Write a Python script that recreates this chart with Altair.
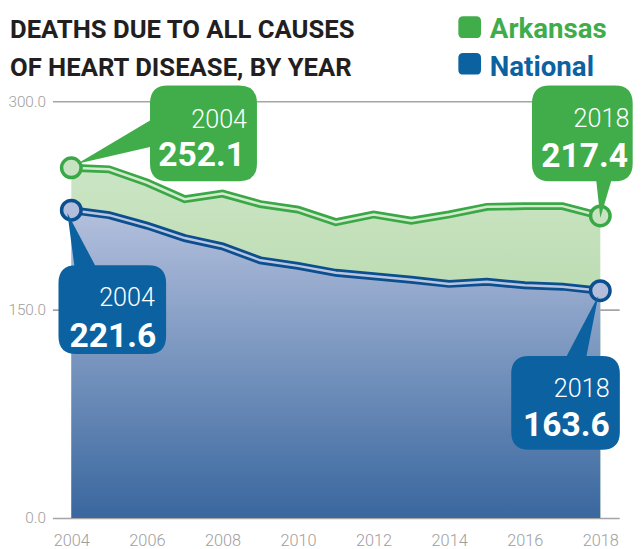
import altair as alt
import pandas as pd

# ---------------- data ----------------
years = list(range(2004, 2019))
arkansas = [252.1, 251.0, 241.5, 229.5, 233.5, 226.0, 222.0, 213.0, 218.5, 214.0, 218.5, 224.0, 224.5, 224.5, 217.4]
national = [221.6, 218.0, 210.5, 201.5, 195.5, 185.5, 181.5, 176.5, 174.0, 171.5, 168.5, 170.0, 167.5, 166.5, 163.6]
series_names = ["Arkansas", "National"]
title_lines = ["DEATHS DUE TO ALL CAUSES", "OF HEART DISEASE, BY YEAR"]
x_ticks = list(range(2004, 2019, 2))
y_ticks = [0, 150, 300]

# ---------------- style ----------------
FONT = "Roboto, Liberation Sans, sans-serif"
GREEN = "#40ad4a"
GREEN_LINE = "#3aa847"
GREEN_LIGHT = "#d4eacd"
GREEN_FILL = "#c8e3c1"
BLUE = "#0c62a1"
BLUE_LINE = "#0b4f8f"
BLUE_LIGHT = "#b8c4e0"
BLUE_FILL = "#b2bedb"
GRAY = "#9e9e9e"

ark_df = pd.DataFrame({"year": years, "value": arkansas})
nat_df = pd.DataFrame({"year": years, "value": national})

xscale = alt.Scale(domain=[2003.5, 2018.5], nice=False, zero=False)
yscale = alt.Scale(domain=[0, 300], nice=False)
xaxis = alt.Axis(values=x_ticks, format="d", grid=False, domain=False, ticks=False,
                 labelFont=FONT, labelFontSize=16.5, labelFontWeight=300, labelColor=GRAY,
                 labelPadding=15, title=None)
yaxis = alt.Axis(values=y_ticks, format=".1f", grid=True, gridColor="#a5a5a5", gridWidth=1.6,
                 domain=False, ticks=False, labelFont=FONT, labelFontSize=15.5,
                 labelFontWeight=300, labelColor=GRAY, labelPadding=7, title=None)
X = alt.X("year:Q", scale=xscale, axis=xaxis)
Y = alt.Y("value:Q", scale=yscale, axis=yaxis)


def grad(c0, c1):
    return alt.Gradient(gradient="linear", x1=0, x2=0, y1=0, y2=1,
                        stops=[alt.GradientStop(offset=0, color=c0),
                               alt.GradientStop(offset=1, color=c1)])


green_area = alt.Chart(ark_df).mark_area(color=grad("#cbe5c4", "#a2cd94")).encode(x=X, y=Y)
blue_area = alt.Chart(nat_df).mark_area(color=grad("#b4c0dd", "#39679e")).encode(x=X, y=Y)

green_line_o = alt.Chart(ark_df).mark_line(color=GREEN_LINE, strokeWidth=8).encode(x=X, y=Y)
green_line_i = alt.Chart(ark_df).mark_line(color=GREEN_LIGHT, strokeWidth=2.5).encode(x=X, y=Y)
blue_line_o = alt.Chart(nat_df).mark_line(color=BLUE_LINE, strokeWidth=8).encode(x=X, y=Y)
blue_line_i = alt.Chart(nat_df).mark_line(color=BLUE_LIGHT, strokeWidth=2.5).encode(x=X, y=Y)

ends_ark = pd.DataFrame({"year": [years[0], years[-1]], "value": [arkansas[0], arkansas[-1]]})
ends_nat = pd.DataFrame({"year": [years[0], years[-1]], "value": [national[0], national[-1]]})
green_dots = alt.Chart(ends_ark).mark_circle(size=390, fill=GREEN_FILL, stroke=GREEN_LINE,
                                             strokeWidth=3.5, opacity=1).encode(x=X, y=Y)
blue_dots = alt.Chart(ends_nat).mark_circle(size=390, fill=BLUE_FILL, stroke=BLUE_LINE,
                                            strokeWidth=3.5, opacity=1).encode(x=X, y=Y)


def f(v):
    return f"{v:.1f}"


def callout_path(L, T, R, B, r, side, p1, p2, tip):
    tx, ty = tip
    c = [f"M{f(L + r)},{f(T)}"]
    if side == "top":
        c += [f"L{f(p1)},{f(T)}", f"L{f(tx)},{f(ty)}", f"L{f(p2)},{f(T)}"]
    c += [f"L{f(R - r)},{f(T)}", f"Q{f(R)},{f(T)} {f(R)},{f(T + r)}"]
    c += [f"L{f(R)},{f(B - r)}", f"Q{f(R)},{f(B)} {f(R - r)},{f(B)}"]
    if side == "bottom":
        c += [f"L{f(p2)},{f(B)}", f"L{f(tx)},{f(ty)}", f"L{f(p1)},{f(B)}"]
    c += [f"L{f(L + r)},{f(B)}", f"Q{f(L)},{f(B)} {f(L)},{f(B - r)}"]
    if side == "left":
        c += [f"L{f(L)},{f(p2)}", f"L{f(tx)},{f(ty)}", f"L{f(L)},{f(p1)}"]
    c += [f"L{f(L)},{f(T + r)}", f"Q{f(L)},{f(T)} {f(L + r)},{f(T)}", "Z"]
    return " ".join(c)


def callout(year, value, color, path, ydx, ydy, vdx, vdy):
    d = pd.DataFrame({"year": [year], "value": [value],
                      "ylab": [str(year)], "vlab": [f"{value:.1f}"]})
    base = alt.Chart(d)
    box = base.mark_point(shape=path, size=4, filled=True, fill=color, opacity=1,
                          strokeWidth=0).encode(x=X, y=Y)
    t1 = base.mark_text(font=FONT, fontSize=25.5, fontWeight=300, color="white",
                        align="right", baseline="alphabetic", dx=ydx, dy=ydy).encode(
        x=X, y=Y, text="ylab:N")
    t2 = base.mark_text(font=FONT, fontSize=34, fontWeight="bold", color="white",
                        align="right", baseline="alphabetic", dx=vdx, dy=vdy).encode(
        x=X, y=Y, text="vlab:N")
    return [box, t1, t2]


R = 18
c_g04 = callout(years[0], arkansas[0], GREEN,
                callout_path(79.7, -83.4, 188, 13.6, R, "left", -48, -21, (6, -4)),
                178, -40.7, 176, -1.4)
c_g18 = callout(years[-1], arkansas[-1], GREEN,
                callout_path(-69.2, -132.2, 32.8, -35.2, R, "bottom", -4, 11, (0, 2)),
                29.5, -90, 28, -50)
c_b04 = callout(years[0], national[0], BLUE,
                callout_path(-13, 55.7, 96, 145.7, R, "top", 3, 24, (-4, 3)),
                84.7, 97.4, 86, 139)
c_b18 = callout(years[-1], national[-1], BLUE,
                callout_path(-90.2, 66.1, 19.8, 161.1, R, "top", -34, -14, (-2, 5)),
                9.5, 108, 9.5, 147)

# title & legend
one = pd.DataFrame({"k": [0]})
title1 = alt.Chart(one).mark_text(font=FONT, fontSize=26, fontWeight="bold", color="#231f20",
                                  align="left", baseline="alphabetic").encode(
    x=alt.value(-43), y=alt.value(-64), text=alt.value(title_lines[0]))
title2 = alt.Chart(one).mark_text(font=FONT, fontSize=26, fontWeight="bold", color="#231f20",
                                  align="left", baseline="alphabetic").encode(
    x=alt.value(-43), y=alt.value(-26), text=alt.value(title_lines[1]))

sq = callout_path(-11.5, -11, 11.5, 11, 5, "none", 0, 0, (0, 0))
leg_g_sq = alt.Chart(one).mark_point(shape=sq, size=4, filled=True, fill=GREEN, opacity=1,
                                     strokeWidth=0).encode(x=alt.value(422.6), y=alt.value(-75))
leg_b_sq = alt.Chart(one).mark_point(shape=sq, size=4, filled=True, fill=BLUE, opacity=1,
                                     strokeWidth=0).encode(x=alt.value(422.6), y=alt.value(-38))
leg_g_t = alt.Chart(one).mark_text(font=FONT, fontSize=28, fontWeight="bold", color=GREEN,
                                   align="left", baseline="alphabetic").encode(
    x=alt.value(443), y=alt.value(-64), text=alt.value(series_names[0]))
leg_b_t = alt.Chart(one).mark_text(font=FONT, fontSize=28, fontWeight="bold", color=BLUE,
                                   align="left", baseline="alphabetic").encode(
    x=alt.value(443), y=alt.value(-26), text=alt.value(series_names[1]))

layers = [green_area, blue_area, green_line_o, green_line_i, blue_line_o, blue_line_i,
          green_dots, blue_dots] + c_g04 + c_g18 + c_b04 + c_b18 + \
         [title1, title2, leg_g_sq, leg_b_sq, leg_g_t, leg_b_t]

chart = alt.layer(*layers).properties(
    width=574, height=422,
    autosize=alt.AutoSizeParams(type="none"),
    padding={"left": 45, "top": 91, "right": 15, "bottom": 28},
    background="white",
).configure_view(stroke=None)

chart.save("out.html", embed_options={"renderer": "svg", "actions": False})
